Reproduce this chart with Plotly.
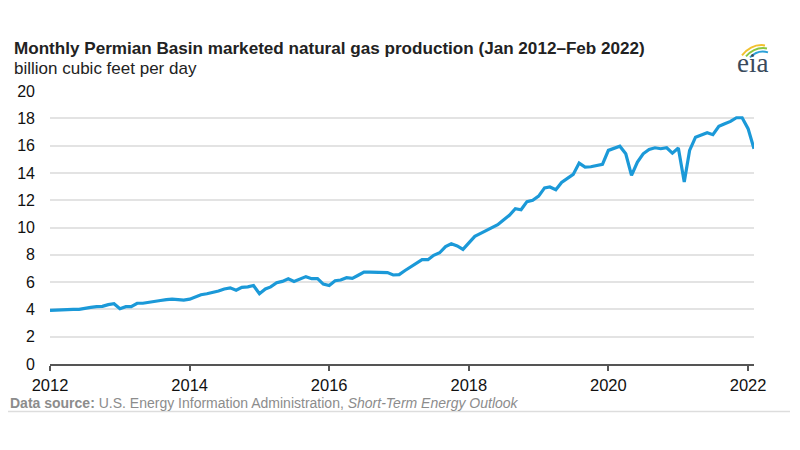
import plotly.graph_objects as go
import pandas as pd

# Monthly Permian Basin marketed natural gas production, Jan 2012 - Feb 2022 (Bcf/d)
months = pd.date_range("2012-01-01", "2022-02-01", freq="MS")
production = [
    # 2012
    3.93, 3.95, 4.00, 4.02, 4.00, 4.00, 4.10, 4.15, 4.20, 4.22, 4.35, 4.42,
    # 2013
    4.05, 4.20, 4.20, 4.45, 4.45, 4.50, 4.55, 4.65, 4.72, 4.75, 4.72, 4.68,
    # 2014
    4.75, 4.90, 5.07, 5.15, 5.22, 5.35, 5.50, 5.58, 5.40, 5.62, 5.65, 5.75,
    # 2015
    5.15, 5.50, 5.65, 5.95, 6.05, 6.25, 6.05, 6.25, 6.40, 6.25, 6.25, 5.85,
    # 2016
    5.75, 6.10, 6.15, 6.32, 6.27, 6.50, 6.73, 6.73, 6.73, 6.73, 6.70, 6.52,
    # 2017
    6.55, 6.85, 7.10, 7.35, 7.64, 7.64, 7.96, 8.15, 8.60, 8.81, 8.65, 8.40,
    # 2018
    8.90, 9.35, 9.55, 9.75, 9.95, 10.20, 10.55, 10.90, 11.38, 11.30, 11.90, 12.00,
    # 2019
    12.30, 12.90, 12.97, 12.77, 13.30, 13.60, 13.89, 14.72, 14.43, 14.45, 14.55, 14.62,
    # 2020
    15.65, 15.80, 15.96, 15.40, 13.82, 14.79, 15.40, 15.72, 15.84, 15.77, 15.84, 15.45,
    # 2021
    15.82, 13.33, 15.65, 16.62, 16.80, 16.94, 16.80, 17.41, 17.60, 17.77, 18.04, 18.04,
    # 2022
    17.24, 15.77,
]

x_tick_vals = ["2012-01-01", "2014-01-01", "2016-01-01", "2018-01-01", "2020-01-01", "2022-01-01"]
x_tick_text = ["2012", "2014", "2016", "2018", "2020", "2022"]
y_tick_vals = [0, 2, 4, 6, 8, 10, 12, 14, 16, 18, 20]

title_text = "Monthly Permian Basin marketed natural gas production (Jan 2012\u2013Feb 2022)"
subtitle_text = "billion cubic feet per day"
source_text = ("<b>Data source:</b> U.S. Energy Information Administration, "
               "<i>Short-Term Energy Outlook</i>")

FONT = "Liberation Sans, Arial, sans-serif"

fig = go.Figure()
fig.add_trace(go.Scatter(
    x=months, y=production, mode="lines",
    line=dict(color="#1b99d8", width=3.2),
    hoverinfo="skip", showlegend=False,
))

# page body adds an 8px offset; compensate so the picture lands like the reference
OFF = 8
W, H = 792, 442
L, T = 50 - OFF, 90.6 - OFF
PW = 704
PH = 273
R = W - L - PW
B = H - T - PH


def px(xpix):
    return (xpix - OFF - L) / PW


def py(ypix):
    return (T + PH - (ypix - OFF)) / PH


fig.update_layout(
    width=W, height=H,
    margin=dict(l=L, r=R, t=T, b=B, autoexpand=False),
    paper_bgcolor="white", plot_bgcolor="white",
    font=dict(family=FONT, color="#222"),
    xaxis=dict(
        range=["2012-01-01", "2022-02-01"],
        tickvals=x_tick_vals, ticktext=x_tick_text,
        showgrid=False, zeroline=False,
        showline=True, linecolor="#555555", linewidth=1.5,
        ticks="outside", ticklen=5, tickwidth=1.5, tickcolor="#555555",
        tickfont=dict(size=16.5, color="#111"),
    ),
    yaxis=dict(
        range=[0, 20], tickvals=y_tick_vals,
        showgrid=True, gridcolor="#e3e3e3", gridwidth=1.8,
        zeroline=False, showline=False,
        ticks="", ticklabelstandoff=14,
        tickfont=dict(size=16, color="#111"),
    ),
    annotations=[
        dict(text="<b>" + title_text + "</b>", xref="paper", yref="paper",
             x=px(12), y=py(48), xanchor="left", yanchor="middle",
             showarrow=False, font=dict(size=17.1, color="#222", family=FONT)),
        dict(text=subtitle_text, xref="paper", yref="paper",
             x=px(12), y=py(68), xanchor="left", yanchor="middle",
             showarrow=False, font=dict(size=17, color="#222", family=FONT)),
        dict(text=source_text, xref="paper", yref="paper",
             x=px(8), y=py(403), xanchor="left", yanchor="middle",
             showarrow=False, font=dict(size=14, color="#8c8c8c", family=FONT)),
        dict(text="eia", xref="paper", yref="paper",
             x=px(752), y=py(63), xanchor="center", yanchor="middle",
             showarrow=False,
             font=dict(size=27, color="#3a4a5c", family="Liberation Serif, serif")),
    ],
    shapes=[
        dict(type="line", xref="paper", yref="paper",
             x0=px(8), x1=px(790), y0=py(411), y1=py(411),
             line=dict(color="#dddddd", width=1.5)),
        # eia logo arcs
        dict(type="path", xref="paper", yref="paper",
             path=f"M {px(742)},{py(55)} Q {px(752)},{py(43)} {px(765)},{py(45)}",
             line=dict(color="#f2c12e", width=2)),
        dict(type="path", xref="paper", yref="paper",
             path=f"M {px(746)},{py(56)} Q {px(755)},{py(46)} {px(767)},{py(48)}",
             line=dict(color="#8cc63f", width=2)),
        dict(type="path", xref="paper", yref="paper",
             path=f"M {px(750)},{py(57)} Q {px(758)},{py(49)} {px(768)},{py(52)}",
             line=dict(color="#2aa0d8", width=2)),
    ],
)

fig.write_html("out.html")
